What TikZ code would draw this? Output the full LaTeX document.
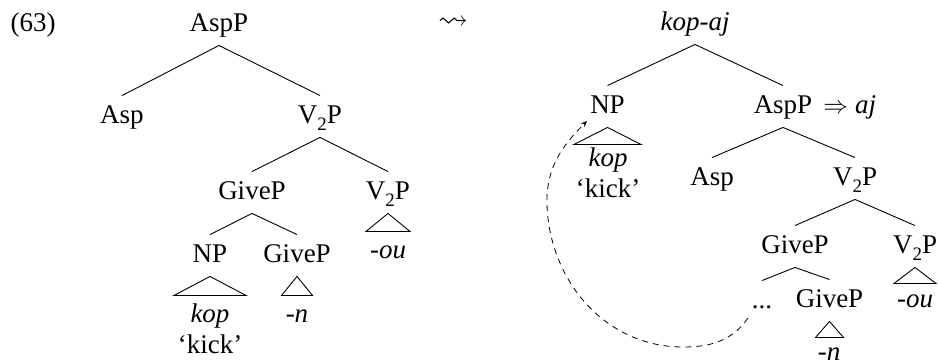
\documentclass[tikz,border=0pt]{standalone}
\usepackage{amssymb}
\usepackage{fontspec}
\setmainfont{Liberation Serif}
\usetikzlibrary{arrows.meta}
\newcommand\subtwo{\raisebox{-0.28em}{\fontsize{19}{19}\selectfont 2}}
\newcommand\vtwo{V\subtwo P}
\begin{document}
\begin{tikzpicture}[x=1pt,y=1pt,line width=0.9pt,
  lbl/.style={font=\fontsize{27}{30}\selectfont, inner xsep=1pt, inner ysep=8pt,
    text height=19pt, text depth=6pt, anchor=base},
  leaf/.style={font=\fontsize{27}{30}\selectfont, inner sep=0pt, anchor=base},
  movearrow/.style={dash pattern=on 6pt off 5pt, line width=0.8pt, -{Stealth[length=6pt,width=5pt]}}]
\useasboundingbox (0,0) rectangle (939,-362);
% ---- left tree ----
\node[leaf] (ex) at (33,-31) {(63)};
\node[font=\fontsize{30}{32}\selectfont, inner sep=0pt] (squig) at (453,-23) {$\rightsquigarrow$};
\node[lbl] (aspP) at (219,-31) {AspP};
\node[lbl] (asp) at (122,-123) {Asp};
\node[lbl] (v2a) at (320,-123) {\vtwo};
\node[lbl] (giveA) at (252,-199) {GiveP};
\node[lbl] (v2b) at (388,-199) {\vtwo};
\node[lbl] (np1) at (210,-262) {NP};
\node[lbl] (giveB) at (297,-262) {GiveP};
\node[leaf] (ou1) at (388,-258) {\textit{-ou}};
\node[leaf] (kop1) at (210,-322) {\textit{kop}};
\node[leaf] (n1) at (297,-322) {\textit{-n}};
\node[leaf] (kick1) at (210,-353) {‘kick’};
\draw (aspP.south) -- (asp.north);
\draw (aspP.south) -- (v2a.north);
\draw (v2a.south) -- (giveA.north);
\draw (v2a.south) -- (v2b.north);
\draw (giveA.south) -- (np1.north);
\draw (giveA.south) -- (giveB.north);
\draw (v2b.south) -- ++(-22,-18) -- ++(44,0) -- cycle;
\draw (np1.south) -- ++(-36,-19) -- ++(72,0) -- cycle;
\draw (giveB.south) -- ++(-15.5,-19) -- ++(31,0) -- cycle;
% ---- right tree ----
\node[lbl] (root) at (695,-30) {\textit{kop-aj}};
\node[lbl] (np2) at (607.5,-113) {NP};
\node[lbl] (aspP2) at (783,-113) {AspP};
\node[leaf, anchor=base west] (aj) at (823,-113) {$\Rightarrow$ \textit{aj}};
\node[leaf] (kop2) at (608,-166) {\textit{kop}};
\node[leaf] (kick2) at (608,-197) {‘kick’};
\node[lbl] (asp2) at (712,-185) {Asp};
\node[lbl] (v2c) at (855,-185) {\vtwo};
\node[lbl] (giveC) at (795,-253) {GiveP};
\node[lbl] (v2d) at (915,-253) {\vtwo};
\node[lbl] (dots) at (762,-308) {...};
\node[lbl] (giveD) at (829.5,-307) {GiveP};
\node[leaf] (ou2) at (915,-307) {\textit{-ou}};
\node[leaf] (n2) at (829,-360) {\textit{-n}};
\draw (root.south) -- (np2.north);
\draw (root.south) -- (aspP2.north);
\draw (aspP2.south) -- (asp2.north);
\draw (aspP2.south) -- (v2c.north);
\draw (v2c.south) -- (giveC.north);
\draw (v2c.south) -- (v2d.north);
\draw (giveC.south) -- (dots.north);
\draw (giveC.south) -- (giveD.north);
\draw (np2.south) -- ++(-33.5,-17) -- ++(67,0) -- cycle;
\draw (v2d.south) -- ++(-21,-16) -- ++(42,0) -- cycle;
\draw (giveD.south) -- ++(-14,-16) -- ++(28,0) -- cycle;
% movement arrow
\coordinate (mstart) at (748,-318);
\coordinate (mbottom) at (683,-347);
\coordinate (mleft) at (547,-205);
\coordinate (mend) at (587,-121);
\draw[movearrow] (mstart) to[out=-125,in=0] (mbottom) to[out=180,in=-88] (mleft) to[out=92,in=225] (mend);
\end{tikzpicture}
\end{document}
